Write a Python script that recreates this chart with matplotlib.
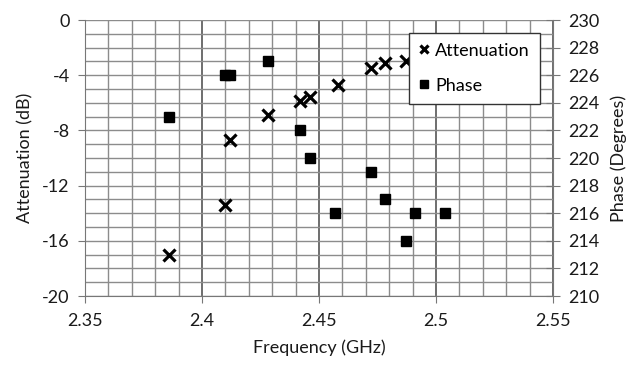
import numpy as np
import matplotlib.pyplot as plt
from matplotlib.ticker import MultipleLocator

plt.rcParams['font.family'] = ['Lato', 'DejaVu Sans']

# attenuation measurements
att_freq = [2.386, 2.410, 2.412, 2.428, 2.442, 2.446, 2.458, 2.472, 2.478, 2.487]
att_db = [-17.0, -13.4, -8.7, -6.9, -5.9, -5.6, -4.7, -3.5, -3.1, -3.0]

# phase measurements
ph_freq = [2.386, 2.410, 2.412, 2.428, 2.442, 2.446, 2.457, 2.472, 2.478, 2.487, 2.491, 2.504]
ph_deg = [223, 226, 226, 227, 222, 220, 216, 219, 217, 214, 216, 216]

fig = plt.figure(figsize=(6.35, 3.65), dpi=100)
ax = fig.add_axes([0.1339, 0.189, 0.737, 0.756])
ax2 = ax.twinx()

ax.set_xlim(2.35, 2.55)
ax.set_ylim(-20, 0)
ax2.set_ylim(210, 230)

# grid
ax.xaxis.set_major_locator(MultipleLocator(0.05))
ax.xaxis.set_minor_locator(MultipleLocator(0.01))
ax.yaxis.set_major_locator(MultipleLocator(4))
ax.yaxis.set_minor_locator(MultipleLocator(1))
ax2.yaxis.set_major_locator(MultipleLocator(2))
ax.grid(True, which='minor', axis='both', color='#8c8c8c', lw=1.0)
ax.grid(True, which='major', axis='y', color='#8c8c8c', lw=1.0)
ax.grid(True, which='major', axis='x', color='#555555', lw=1.2)
ax.set_axisbelow(True)

ax.set_xticks(np.arange(2.35, 2.5501, 0.05))
ax.set_xticklabels(['2.35', '2.4', '2.45', '2.5', '2.55'])
ax.set_yticks(np.arange(-20, 0.1, 4))
ax.set_yticklabels([str(int(v)) for v in np.arange(-20, 0.1, 4)])

for a in (ax, ax2):
    for s in a.spines.values():
        s.set_visible(False)
ax.spines['left'].set_visible(True)
ax.spines['left'].set_color('#777777')
ax.spines['bottom'].set_visible(True)
ax.spines['bottom'].set_color('#777777')
ax2.spines['right'].set_visible(True)
ax2.spines['right'].set_color('#777777')

ax.tick_params(axis='both', which='minor', length=0)
ax.tick_params(axis='y', which='major', length=5, color='#777777', labelsize=13, pad=6, labelcolor='#1a1a1a')
ax.tick_params(axis='x', which='major', length=5, color='#777777', labelsize=13, pad=7, labelcolor='#1a1a1a')
ax2.tick_params(axis='y', which='major', direction='inout', length=10, color='#777777', labelsize=13, pad=6, labelcolor='#1a1a1a')

l1, = ax.plot(att_freq, att_db, ls='none', marker='x', ms=8, mew=2.3, color='black', label='Attenuation', zorder=3)
l2, = ax2.plot(ph_freq, ph_deg, ls='none', marker='s', ms=7, color='black', label='Phase', zorder=3)

ax.set_xlabel('Frequency (GHz)', fontsize=13, color='#1a1a1a', labelpad=8)
ax.set_ylabel('Attenuation (dB)', fontsize=13, color='#1a1a1a', labelpad=6)
ax2.set_ylabel('Phase (Degrees)', fontsize=13, color='#1a1a1a', labelpad=8)

leg = ax2.legend(handles=[l1, l2], loc='upper left', bbox_to_anchor=(0.644, 0.910),
                 bbox_transform=fig.transFigure, fontsize=13, fancybox=False,
                 framealpha=1, edgecolor='#333333', handlelength=0.6, handletextpad=0.3,
                 borderpad=0.55, labelspacing=1.05, markerscale=0.8, borderaxespad=0)
leg.get_frame().set_linewidth(1.0)
leg.set_zorder(5)

fig.savefig('out.png', dpi=100)
